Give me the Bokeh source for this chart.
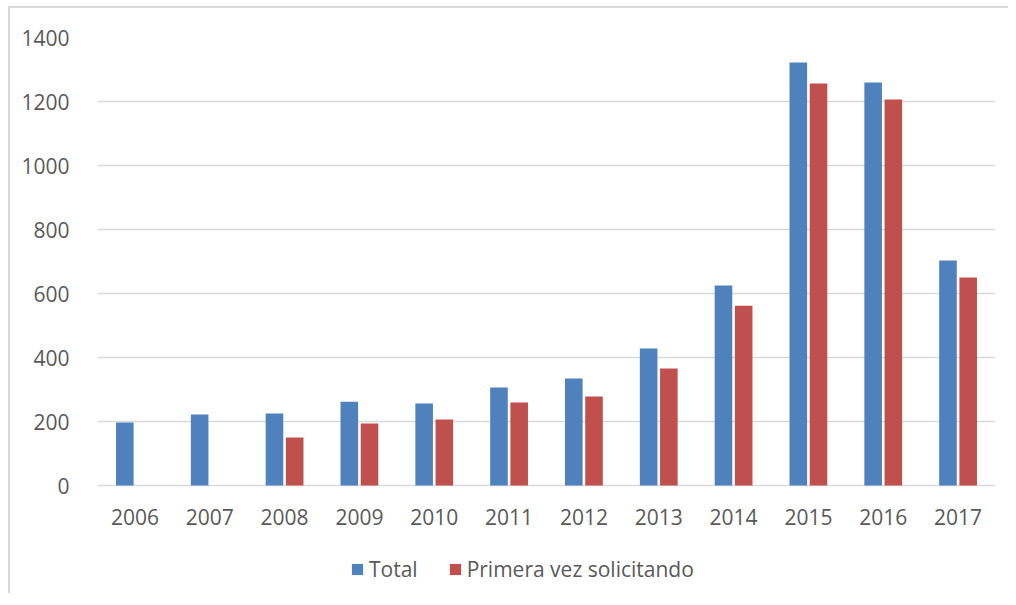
from bokeh.plotting import figure
from bokeh.models import ColumnDataSource, Legend, LegendItem, FactorRange, Range1d
from bokeh.transform import dodge
from bokeh.embed import file_html
from bokeh.resources import INLINE

years = ["2006", "2007", "2008", "2009", "2010", "2011", "2012", "2013", "2014", "2015", "2016", "2017"]
total = [197, 222, 225, 262, 256, 306, 334, 428, 625, 1322, 1259, 703]
primera = [0, 0, 150, 194, 206, 259, 278, 366, 562, 1256, 1206, 650]
y_ticks = [0, 200, 400, 600, 800, 1000, 1200, 1400]

FONT = "Open Sans"
TXT = "#595959"
GRID = "#d9d9d9"

src = ColumnDataSource(dict(year=years, total=total, primera=primera))

# frame extends below zero so the legend (inside the frame) is not clipped
p = figure(x_range=FactorRange(*years, range_padding=0), y_range=Range1d(-343.75, 1400),
           width=1000, height=587, output_backend="svg", toolbar_location=None,
           min_border_left=87, min_border_right=15, min_border_top=29, min_border_bottom=0)
p.styles = {"margin-left": "8px", "margin-top": "6px",
            "border-left": "2px solid #d9d9d9", "border-top": "2px solid #d9d9d9"}
p.outline_line_color = None
p.background_fill_color = "white"

r1 = p.vbar(x=dodge("year", -0.135, range=p.x_range), top="total", width=0.235,
            source=src, fill_color="#4f81bd", line_color=None)
r2 = p.vbar(x=dodge("year", 0.135, range=p.x_range), top="primera", width=0.235,
            source=src, fill_color="#c0504d", line_color=None)

p.xgrid.grid_line_color = None
p.ygrid.grid_line_color = GRID
p.ygrid.grid_line_width = 1.5
p.yaxis.ticker = y_ticks

for ax in (p.xaxis[0], p.yaxis[0]):
    ax.axis_line_color = None
    ax.major_tick_line_color = None
    ax.minor_tick_line_color = None
    ax.major_label_text_font = FONT
    ax.major_label_text_font_size = "21px"
    ax.major_label_text_color = TXT

p.yaxis.major_label_standoff = 22
p.xaxis.major_label_standoff = 17
p.xaxis.fixed_location = 0

legend = Legend(items=[LegendItem(label="Total", renderers=[r1]),
                       LegendItem(label="Primera vez solicitando", renderers=[r2])],
                orientation="horizontal", location=(253, 12),
                glyph_width=14, glyph_height=14, label_standoff=5, spacing=30,
                label_text_font=FONT, label_text_font_size="21px", label_text_color=TXT,
                border_line_color=None, background_fill_alpha=0, padding=0, margin=0)
p.add_layout(legend, "center")

open("out.html", "w").write(file_html(p, INLINE))
